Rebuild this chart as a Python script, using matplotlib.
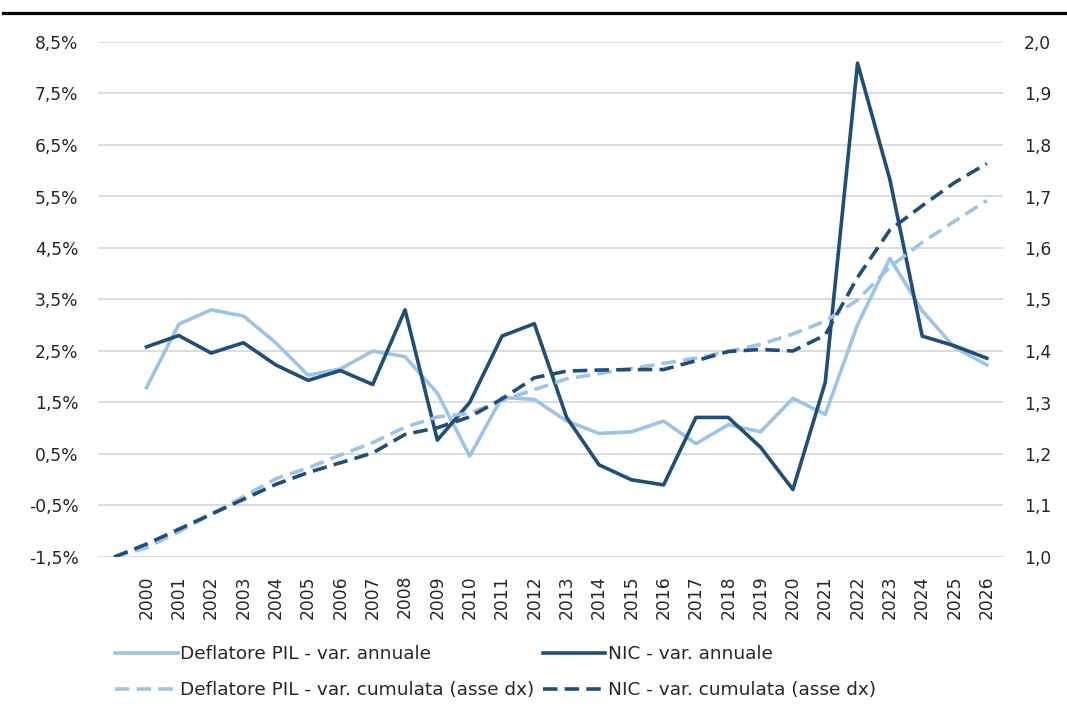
import numpy as np
import matplotlib
matplotlib.use("Agg")
import matplotlib.pyplot as plt
from matplotlib.lines import Line2D
from matplotlib.ticker import FixedLocator

# ---- data ----
years = list(range(1999, 2027))
year_labels = [""] + [str(y) for y in range(2000, 2027)]
nan = np.nan
deflatore_annual = [nan, 1.79, 3.02, 3.30, 3.18, 2.66, 2.03, 2.15, 2.50, 2.39, 1.68, 0.46,
                    1.60, 1.56, 1.14, 0.90, 0.93, 1.14, 0.70, 1.07, 0.93, 1.58, 1.27,
                    3.01, 4.30, 3.28, 2.57, 2.23]
nic_annual = [nan, 2.58, 2.80, 2.46, 2.66, 2.23, 1.93, 2.12, 1.85, 3.30, 0.77, 1.50,
              2.79, 3.03, 1.21, 0.29, 0.00, -0.10, 1.21, 1.21, 0.63, -0.19, 1.89,
              8.09, 5.83, 2.79, 2.60, 2.36]
deflatore_cum = [1.000, 1.018, 1.049, 1.083, 1.117, 1.152, 1.173, 1.198, 1.222, 1.252,
                 1.272, 1.279, 1.304, 1.325, 1.346, 1.356, 1.366, 1.376, 1.386, 1.399,
                 1.413, 1.433, 1.458, 1.499, 1.563, 1.611, 1.652, 1.692]
nic_cum = [1.000, 1.025, 1.054, 1.083, 1.112, 1.141, 1.164, 1.183, 1.202, 1.238,
           1.251, 1.272, 1.307, 1.348, 1.361, 1.363, 1.364, 1.364, 1.381, 1.399,
           1.403, 1.400, 1.431, 1.543, 1.635, 1.682, 1.727, 1.764]
left_ticks = [-1.5, -0.5, 0.5, 1.5, 2.5, 3.5, 4.5, 5.5, 6.5, 7.5, 8.5]
right_ticks = [1.0, 1.1, 1.2, 1.3, 1.4, 1.5, 1.6, 1.7, 1.8, 1.9, 2.0]
series_names = ["Deflatore PIL - var. annuale", "NIC - var. annuale",
                "Deflatore PIL - var. cumulata (asse dx)", "NIC - var. cumulata (asse dx)"]

LIGHT = "#9dc3e6"
DARK = "#1f4e79"
TXT = "#262626"

plt.rcParams['font.family'] = ['DejaVu Sans']

W, H = 1067, 722
fig = plt.figure(figsize=(W / 100, H / 100), dpi=100)
ax = fig.add_axes([98 / W, 1 - 557 / H, (1003 - 98) / W, (557 - 42) / H])
ax2 = ax.twinx()

x = np.arange(len(years))
lw = 2.6
l1, = ax.plot(x, deflatore_annual, color=LIGHT, lw=lw, solid_joinstyle='round', zorder=3)
l2, = ax.plot(x, nic_annual, color=DARK, lw=lw, solid_joinstyle='round', zorder=4)
l3, = ax2.plot(x, deflatore_cum, color=LIGHT, lw=lw, dashes=(4, 2), zorder=3)
l4, = ax2.plot(x, nic_cum, color=DARK, lw=lw, dashes=(4, 2), zorder=4)

ax.set_xlim(-0.5, len(years) - 0.5)
ax.set_ylim(-1.5, 8.5)
ax2.set_ylim(1.0, 2.0)
ax.yaxis.set_major_locator(FixedLocator(left_ticks))
ax.set_yticklabels([f"{v:.1f}%".replace(".", ",") for v in left_ticks])
ax2.yaxis.set_major_locator(FixedLocator(right_ticks))
ax2.set_yticklabels([f"{v:.1f}".replace(".", ",") for v in right_ticks])
ax.set_xticks(x)
ax.set_xticklabels(year_labels, rotation=90)

ax.grid(axis='y', color='#d9d9d9', lw=1.3, zorder=0)
ax.set_axisbelow(True)
for a in (ax, ax2):
    for s in a.spines.values():
        s.set_visible(False)
    a.tick_params(length=0, colors=TXT, labelsize=12.3)
ax.tick_params(axis='y', pad=14)
ax2.tick_params(axis='y', pad=15)
ax.tick_params(axis='x', pad=13)

handles = [l1, l3, l2, l4]
labels = [series_names[0], series_names[2], series_names[1], series_names[3]]
leg = fig.legend(handles, labels, ncol=2, loc='upper left',
                 bbox_to_anchor=(115 / W, 1 - 645 / H), frameon=False,
                 fontsize=13.3, handlelength=3.4, handletextpad=0.12,
                 columnspacing=0.45, labelspacing=1.0, borderaxespad=0, borderpad=0)
for t in leg.get_texts():
    t.set_color(TXT)

fig.add_artist(Line2D([3 / W, 1.0], [1 - 12.5 / H, 1 - 12.5 / H], color='black', lw=2.3))

fig.savefig("out.png", dpi=100)
